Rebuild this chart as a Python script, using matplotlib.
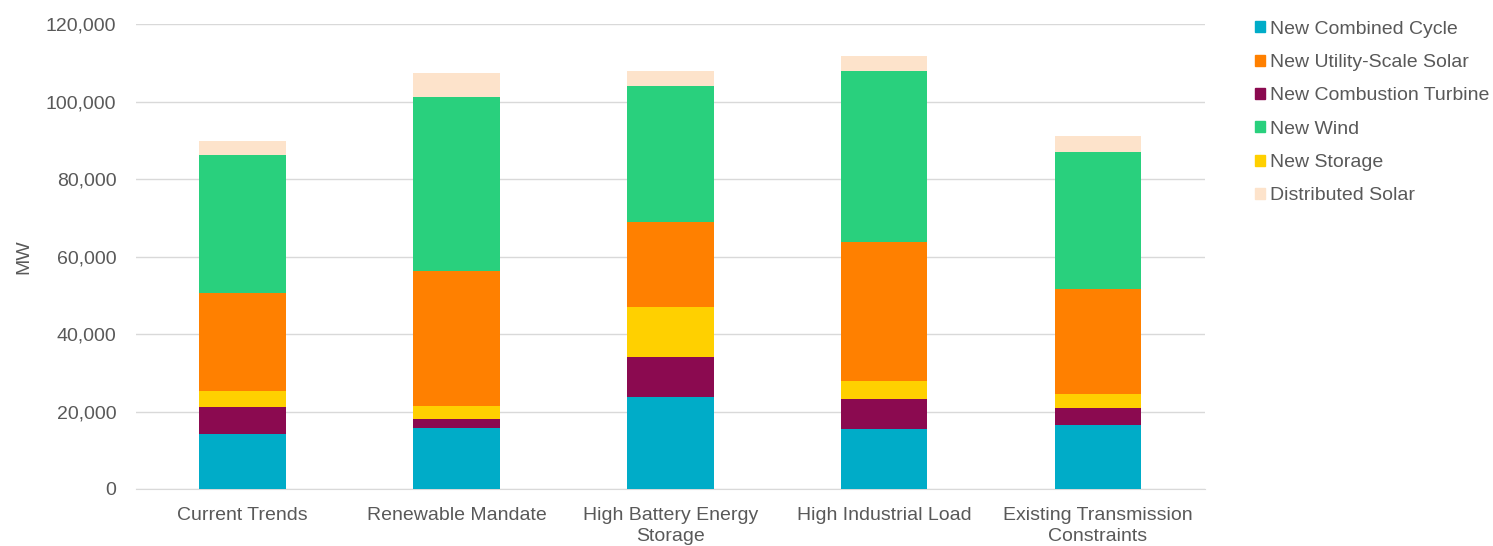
import numpy as np
import matplotlib.pyplot as plt
from matplotlib.patches import Patch

plt.rcParams['font.family'] = ['Liberation Sans', 'DejaVu Sans']

# scenarios
scenarios = ['Current Trends', 'Renewable Mandate', 'High Battery Energy\nStorage',
             'High Industrial Load', 'Existing Transmission\nConstraints']

# MW by resource
combined_cycle = [14200, 15700, 23700, 15400, 16400]
combustion_turbine = [7000, 2300, 10400, 7900, 4500]
storage = [4200, 3300, 12900, 4700, 3500]
utility_solar = [25200, 35000, 22000, 35800, 27300]
wind = [35600, 44800, 35100, 44000, 35400]
distributed_solar = [3600, 6300, 3900, 3900, 3900]

# stacking order bottom -> top
stack = [
    ('New Combined Cycle', combined_cycle, '#00acc8'),
    ('New Combustion Turbine', combustion_turbine, '#8b0a50'),
    ('New Storage', storage, '#ffd000'),
    ('New Utility-Scale Solar', utility_solar, '#ff8000'),
    ('New Wind', wind, '#29d07d'),
    ('Distributed Solar', distributed_solar, '#fde3cb'),
]
legend_order = ['New Combined Cycle', 'New Utility-Scale Solar', 'New Combustion Turbine',
                'New Wind', 'New Storage', 'Distributed Solar']

fig = plt.figure(figsize=(14.93, 5.46), dpi=100)
ax = fig.add_axes([0.091, 0.1044, 0.716, 0.8516])

x = np.arange(len(scenarios))
bottom = np.zeros(len(scenarios))
colors = {}
for name, vals, col in stack:
    ax.bar(x, vals, 0.405, bottom=bottom, color=col, zorder=3)
    bottom += np.array(vals)
    colors[name] = col

ax.set_xlim(-0.5, len(scenarios) - 0.5)
ax.set_ylim(0, 120000)
ax.set_yticks(np.arange(0, 120001, 20000))
ax.set_yticklabels([f'{v:,}' for v in range(0, 120001, 20000)])
ax.set_xticks(x)
ax.set_xticklabels(scenarios, linespacing=1.3)
ax.tick_params(length=0, labelsize=14, labelcolor='#595959')
ax.tick_params(axis='y', pad=14)
ax.tick_params(axis='x', pad=13)
ax.grid(axis='y', color='#d9d9d9', linewidth=1, zorder=0)
for s in ['top', 'right', 'left']:
    ax.spines[s].set_visible(False)
ax.spines['bottom'].set_color('#d9d9d9')
ax.set_ylabel('MW', fontsize=14, color='#595959', labelpad=10)

handles = [Patch(color=colors[n], label=n) for n in legend_order]
fig.legend(handles=handles, loc='upper left', bbox_to_anchor=(0.829, 0.994),
           frameon=False, fontsize=14, labelcolor='#595959',
           handlelength=0.5, handleheight=0.5, handletextpad=0.25, labelspacing=0.84)

fig.savefig('out.png', dpi=100)
